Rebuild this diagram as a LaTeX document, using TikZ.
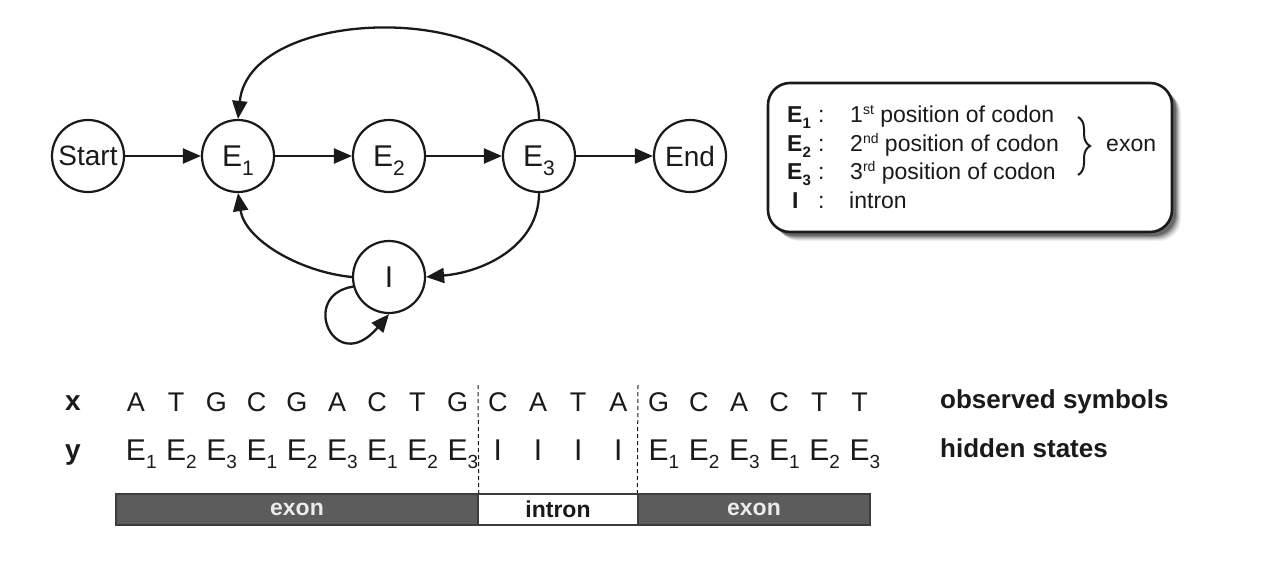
\documentclass[tikz,border=0pt]{standalone}
\usepackage{fontspec}
\setmainfont{Liberation Sans}
\usetikzlibrary{arrows.meta,decorations.pathreplacing}
\newcommand\fs[1]{\fontsize{#1}{#1}\selectfont}
% E with subscript, whole composite counted
\newcommand\Esb[3]{E\smash{\raisebox{-#3pt}{\fs{#2}#1}}}
% E with subscript, only E counted (for column alignment)
\newcommand\Esr[3]{E\rlap{\smash{\raisebox{-#3pt}{\fs{#2}#1}}}}
\definecolor{ink}{HTML}{1A1A1A}
\definecolor{barfill}{HTML}{5C5C5C}
\definecolor{barline}{HTML}{3C3C3C}
\begin{document}
\begin{tikzpicture}[x=1pt,y=-1pt,
  state/.style={circle, draw=ink, line width=2.2pt, minimum size=72pt, inner sep=0pt, font=\fs{28}, text=ink},
  conn/.style={draw=ink, line width=2.3pt, -{Triangle[length=18pt,width=15pt]}},
  seq/.style={anchor=base, font=\fs{27}, text=ink, inner sep=0pt},
  seqE/.style={anchor=base, font=\fs{30}, text=ink, inner sep=0pt},
  rowlbl/.style={anchor=base, font=\bfseries\fs{28}, text=ink, inner sep=0pt},
  sidelbl/.style={anchor=base west, font=\bfseries\fs{26}, text=ink, inner sep=0pt},
  lgd/.style={anchor=base west, font=\fs{23}, text=ink, inner sep=0pt},
  lgdkey/.style={anchor=base west, font=\bfseries\fs{23}, text=ink, inner sep=0pt},
  barex/.style={rectangle, draw=barline, fill=barfill, line width=1.5pt, minimum height=31pt, inner sep=0pt, font=\bfseries\fs{23}, text=black!8},
  barin/.style={rectangle, draw=barline, fill=white, line width=1.5pt, minimum height=31pt, inner sep=0pt, font=\bfseries\fs{23}, text=ink},
  sepline/.style={draw=ink, line width=1pt, dash pattern=on 4pt off 3pt},
  bracestyle/.style={draw=ink, line width=2pt, decorate, decoration={brace, amplitude=12pt}}
]
\useasboundingbox (0,0) rectangle (1268,560);
\fill[white] (0,0) rectangle (1268,560);

% ---------- state graph ----------
\node[state] (start) at (88,156) {Start};
\node[state, font=\fs{30}] (e1) at (238,156) {\Esb{1}{21}{9}};
\node[state, font=\fs{30}] (e2) at (389,156) {\Esb{2}{21}{9}};
\node[state, font=\fs{30}] (e3) at (539,156) {\Esb{3}{21}{9}};
\node[state] (end) at (690,156) {End};
\node[state, font=\fs{30}] (I) at (389,277) {I};

\draw[conn] (start) -- (e1);
\draw[conn] (e1) -- (e2);
\draw[conn] (e2) -- (e3);
\draw[conn] (e3) -- (end);
\draw[conn] (e3.north) .. controls (539,0) and (250,0) .. (e1.north);
\draw[conn] (e3.south) .. controls (539,245) and (485,272) .. (I.east);
\draw[conn] (I.west) .. controls (300,272) and (245,240) .. (e1.south);
\draw[conn] (I.195) .. controls (298,295) and (335,378) .. (I.south);

% ---------- legend ----------
\foreach \s/\o in {9/0.06,8/0.08,7/0.1,6/0.14,5/0.18,4/0.25}
  \fill[black, opacity=\o, rounded corners=22pt] (768+\s,83+\s) rectangle (1172+\s,232+\s);
\node[rectangle, draw=ink, fill=white, line width=2.6pt, rounded corners=22pt,
      minimum width=404pt, minimum height=149pt] (leg) at (970,157.5) {};

\node[lgdkey] (k1) at (787,122.5) {E\raisebox{-6pt}{\fs{15}1}};
\node[lgdkey] (k2) at (787,151) {E\raisebox{-6pt}{\fs{15}2}};
\node[lgdkey] (k3) at (787,179.5) {E\raisebox{-6pt}{\fs{15}3}};
\node[lgdkey] (k4) at (792,208) {I};
\node[lgd] (c1) at (818,122.5) {:};
\node[lgd] (c2) at (818,151) {:};
\node[lgd] (c3) at (818,179.5) {:};
\node[lgd] (c4) at (818,208) {:};
\node[lgd] (t1) at (850,122.5) {1\raisebox{8pt}{\fs{14}st} position of codon};
\node[lgd] (t2) at (850,151) {2\raisebox{8pt}{\fs{14}nd} position of codon};
\node[lgd] (t3) at (850,179.5) {3\raisebox{8pt}{\fs{14}rd} position of codon};
\node[lgd] (t4) at (849,208) {intron};
\coordinate (bt) at (1078,117);
\coordinate (bb) at (1078,175);
\draw[bracestyle] (bt) -- (bb);
\node[lgd] (ex) at (1106,151) {exon};

% ---------- sequences ----------
\node[rowlbl] (xl) at (73,410) {x};
\node[rowlbl] (yl) at (73,459) {y};
\foreach \c [count=\i from 0] in {A,T,G,C,G,A,C,T,G,C,A,T,A,G,C,A,C,T,T}
  \node[seq] (x\i) at ({136+40.2*\i},411) {\c};
\foreach \s [count=\i from 0] in {1,2,3,1,2,3,1,2,3}
  \node[seqE] (ya\i) at ({136+40.2*\i},460) {\Esr{\s}{19}{8}};
\foreach \i in {9,...,12}
  \node[seqE] (yb\i) at ({136+40.2*\i},460) {I};
\foreach \s [count=\i from 13] in {1,2,3,1,2,3}
  \node[seqE] (yc\i) at ({136+40.2*\i},460) {\Esr{\s}{19}{8}};

\node[sidelbl] (obs) at (940,408) {observed symbols};
\node[sidelbl] (hid) at (940,457) {hidden states};

% ---------- bar ----------
\node[barex, minimum width=362pt] (bar1) at (297,509.5) {exon};
\node[barin, minimum width=160pt] (bar2) at (558,509.5) {intron};
\node[barex, minimum width=232pt] (bar3) at (754,509.5) {exon};
\coordinate (d1) at (478,385);
\coordinate (d2) at (638,385);
\draw[sepline] (d1) -- (bar1.north east);
\draw[sepline] (d2) -- (bar3.north west);
\end{tikzpicture}
\end{document}
